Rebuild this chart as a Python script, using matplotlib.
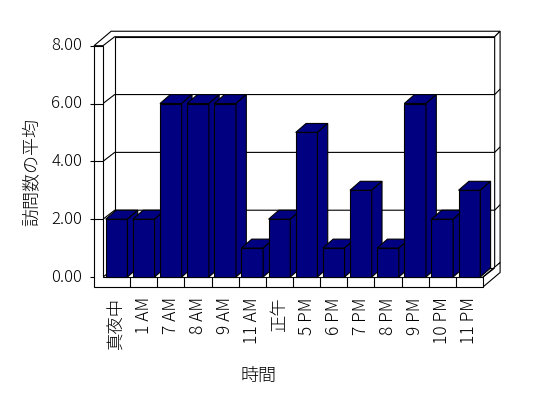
import matplotlib
matplotlib.use("Agg")
import matplotlib.pyplot as plt
from matplotlib.patches import Polygon

plt.rcParams["font.family"] = ["Noto Sans CJK JP", "DejaVu Sans"]
plt.rcParams["font.weight"] = "light"

hours = ["真夜中", "1 AM", "7 AM", "8 AM", "9 AM", "11 AM", "正午",
         "5 PM", "6 PM", "7 PM", "8 PM", "9 PM", "10 PM", "11 PM"]
avg_visits = [2, 2, 6, 6, 6, 1, 2, 5, 1, 3, 1, 6, 2, 3]
yticks = [0, 2, 4, 6, 8]

NAVY = "#000080"
LW = 0.8
# pseudo-3D offsets in data units (x: categories, y: values)
BDX, BDY = 0.38, 0.31      # bar depth
WDX, WDY = 0.43, 0.31      # back wall position
TX, TY = 0.2, 0.19         # wall slab thickness
SIDE = 0.33                # left wall thickness
FLOOR = 0.345              # floor thickness
TICK = 0.15

n = len(hours)
ymax = yticks[-1]

fig = plt.figure(figsize=(5.48, 3.98), dpi=100)
ax = fig.add_axes([103/548, 1-277/398, 380/548, 231.3/398])
ax.set_xlim(0, n); ax.set_ylim(0, ymax)
ax.axis("off")

def poly(pts, fc="white", z=1):
    ax.add_patch(Polygon(pts, closed=True, fc=fc, ec="black", lw=LW, zorder=z,
                         clip_on=False, joinstyle="miter"))

def line(xs, ys, z=1.5):
    ax.plot(xs, ys, color="black", lw=LW, zorder=z, clip_on=False, solid_capstyle="butt")

# walls and floor
poly([(WDX, WDY), (n+WDX, WDY), (n+WDX, ymax+WDY), (WDX, ymax+WDY)])
poly([(-SIDE, ymax), (0, ymax), (WDX, ymax+WDY), (n+WDX, ymax+WDY),
      (n+WDX+TX, ymax+WDY+TY), (-SIDE+WDX+TX, ymax+WDY+TY)])
poly([(n+WDX, WDY), (n+WDX+TX, WDY+TY), (n+WDX+TX, ymax+WDY+TY), (n+WDX, ymax+WDY)])
poly([(n, -FLOOR), (n+WDX+TX, -FLOOR+WDY+TY), (n+WDX+TX, WDY+TY), (n, 0)])
poly([(-SIDE, -FLOOR), (n, -FLOOR), (n, 0), (0, 0), (0, ymax), (-SIDE, ymax)], z=2)
line([0, WDX], [0, WDY])
line([n, n+WDX], [0, WDY])

for v in yticks:
    line([-SIDE-TICK, -SIDE], [v, v], z=2.5)
    ax.text(-SIDE-TICK-0.29, v, f"{v:.2f}", ha="right", va="center", fontsize=12)
for v in yticks[1:-1]:
    line([-SIDE, 0], [v, v], z=2.5)
    line([0, WDX, n+WDX, n+WDX+TX], [v, v+WDY, v+WDY, v+WDY+TY])
for k in range(1, n):
    line([k, k], [-FLOOR, 0], z=2.5)

# bars: front faces via bar(), top and side faces as polygons
xs = [i + 0.5 for i in range(n)]
bars = ax.bar(xs, avg_visits, width=0.8, color=NAVY, edgecolor="black", lw=LW)
for i, (rect, v) in enumerate(zip(bars, avg_visits)):
    z = 3 + i
    rect.set_zorder(z); rect.set_clip_on(False)
    x0, x1 = xs[i] - 0.4, xs[i] + 0.4
    poly([(x0, v), (x1, v), (x1+BDX, v+BDY), (x0+BDX, v+BDY)], fc=NAVY, z=z+0.5)
    poly([(x1, 0), (x1+BDX, BDY), (x1+BDX, v+BDY), (x1, v)], fc=NAVY, z=z+0.5)

for x, lab in zip(xs, hours):
    ax.text(x, -0.7, lab, rotation=90, ha="center", va="top", fontsize=12.5)

fig.text(32/548, 1-172/398, "訪問数の平均", rotation=90, ha="center", va="center", fontsize=13)
fig.text(259/548, 1-376/398, "時間", ha="center", va="center", fontsize=13)

fig.savefig("out.png", dpi=100)
